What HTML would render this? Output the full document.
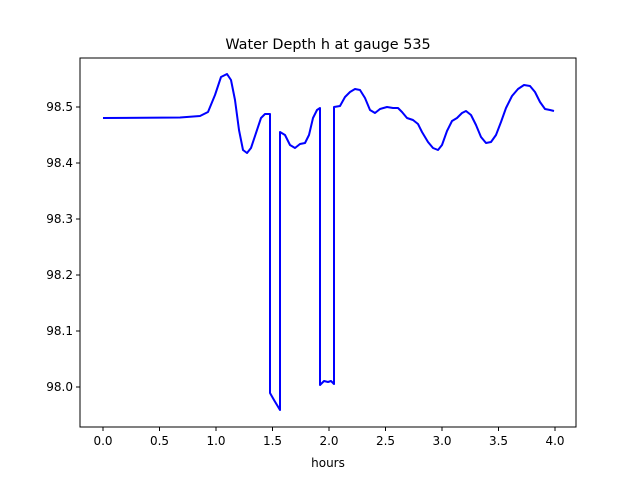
<!DOCTYPE html>
<html><head><style>body{margin:0;background:#fff}svg{display:block}text{font-family:"DejaVu Sans","Liberation Sans",sans-serif;fill:#000}</style></head><body>
<svg width="640" height="480" viewBox="0 0 640 480">
<rect x="80" y="58" width="496" height="369" fill="none" stroke="#000" stroke-width="1"/>
<text x="328" y="49" font-size="14.4" text-anchor="middle">Water Depth h at gauge 535</text>
<g stroke="#000" stroke-width="1">
<line x1="103" y1="427" x2="103" y2="431"/><line x1="159.5" y1="427" x2="159.5" y2="431"/><line x1="216" y1="427" x2="216" y2="431"/><line x1="272.5" y1="427" x2="272.5" y2="431"/><line x1="329" y1="427" x2="329" y2="431"/><line x1="385.5" y1="427" x2="385.5" y2="431"/><line x1="442" y1="427" x2="442" y2="431"/><line x1="498.5" y1="427" x2="498.5" y2="431"/><line x1="555" y1="427" x2="555" y2="431"/>
<line x1="76" y1="107" x2="80" y2="107"/><line x1="76" y1="163" x2="80" y2="163"/><line x1="76" y1="219" x2="80" y2="219"/><line x1="76" y1="275" x2="80" y2="275"/><line x1="76" y1="331" x2="80" y2="331"/><line x1="76" y1="387" x2="80" y2="387"/>
</g>
<g font-size="12" text-anchor="middle">
<text x="103" y="445">0.0</text><text x="159.5" y="445">0.5</text><text x="216" y="445">1.0</text><text x="272.5" y="445">1.5</text><text x="329" y="445">2.0</text><text x="385.5" y="445">2.5</text><text x="442" y="445">3.0</text><text x="498.5" y="445">3.5</text><text x="555" y="445">4.0</text>
<text x="328" y="467">hours</text>
</g>
<g font-size="12" text-anchor="end">
<text x="73" y="111">98.5</text><text x="73" y="167">98.4</text><text x="73" y="223">98.3</text><text x="73" y="279">98.2</text><text x="73" y="335">98.1</text><text x="73" y="391">98.0</text>
</g>
<polyline fill="none" stroke="#0000ff" stroke-width="2" stroke-linejoin="round" points="103,118 180,117.5 200,116 208,112 215,95 221,77 227,74 231,80 235,100 239,130 243,150 247,153 251,148 256,133 261,118 265,114 270,114 270,393 274,400 280,410 280,132 285,135 290,145 295,148 300,144 305,143 309,135 313,118 317,110 320,108 320,385 324,381 328,382 331,381 334,384 334,107 340,106 345,97 350,92 355,89 360,90 365,98 370,110 375,113 380,109 387,107 393,108 398,108 402,112 407,118 413,120 418,124 422,132 428,142 433,148 438,150 442,145 447,131 452,121 457,118 462,113 466,111 471,115 476,125 481,137 486,143 491,142 496,135 501,122 506,108 512,96 518,89 524,85 530,86 535,92 540,102 545,109 550,110 554,111"/>
</svg>
</body></html>
